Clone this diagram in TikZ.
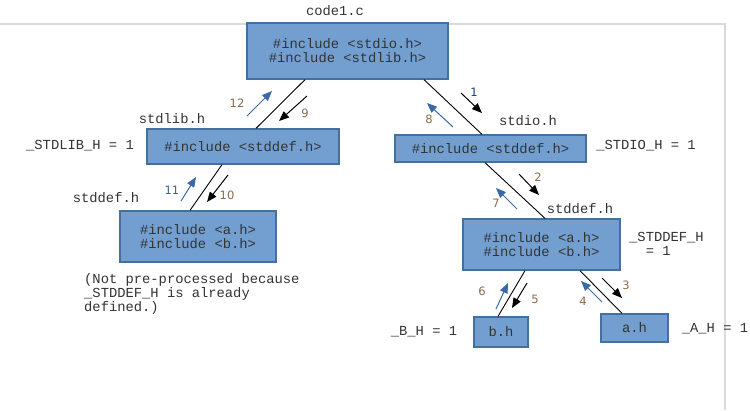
\documentclass[tikz,border=0pt]{standalone}
\usepackage{fontspec}
\setmonofont{Liberation Mono}
\newfontfamily\numfont{DejaVu Sans}
\usetikzlibrary{arrows.meta}
\definecolor{boxfill}{HTML}{729FCF}
\definecolor{boxline}{HTML}{41719C}
\definecolor{bluearr}{HTML}{3A68A8}
\definecolor{numcol}{HTML}{8A6A48}
\definecolor{navy}{HTML}{1F3A8A}
\definecolor{bluenum}{HTML}{3F5F95}
\definecolor{txt}{HTML}{333333}
\definecolor{frame}{HTML}{D9D9D9}
\tikzset{
  box/.style={draw=boxline, fill=boxfill, line width=1.3bp, inner sep=0pt,
    align=center, font=\ttfamily\fontsize{13.8bp}{14bp}\selectfont, text=txt},
  lbl/.style={inner sep=0pt, font=\ttfamily\fontsize{13.8bp}{14bp}\selectfont, text=txt},
  link/.style={draw=black, line width=0.9bp},
  fwd/.style={draw=black, line width=1bp, -{Triangle[length=10bp,width=8bp]}},
  back/.style={draw=bluearr, line width=1bp, -{Triangle[length=10bp,width=8bp]}},
  num/.style={inner sep=0pt, font=\numfont\fontsize{11.5bp}{13bp}\selectfont, text=numcol},
  numb/.style={num, text=navy},
  numl/.style={num, text=bluenum}
}
\begin{document}
\begin{tikzpicture}[x=1bp,y=-1bp]
\useasboundingbox (0,0) rectangle (750,410);
\fill[white] (0,0) rectangle (750,410);
% frame
\draw[frame, line width=2bp] (0,24) -- (725,24) -- (725,410);

% boxes
\node[box, minimum width=201bp, minimum height=56bp] (top) at (347.5,51) {\#include <stdio.h>\\\#include <stdlib.h>};
\node[box, minimum width=192bp, minimum height=35bp] (stdlib) at (243,146.5) {\#include <stddef.h>};
\node[box, minimum width=191bp, minimum height=27bp] (stdio) at (490.5,148.5) {\#include <stddef.h>};
\node[box, minimum width=156bp, minimum height=51bp] (defL) at (198,236.5) {\#include <a.h>\\\#include <b.h>};
\node[box, minimum width=157bp, minimum height=51bp] (defR) at (541.5,244.5) {\#include <a.h>\\\#include <b.h>};
\node[box, minimum width=54bp, minimum height=30bp] (bh) at (501,332) {b.h};
\node[box, minimum width=67bp, minimum height=28bp] (ah) at (634.5,328) {a.h};

% text labels
\node[lbl] (code) at (335,11) {code1.c};
\node[lbl] (lstdlib) at (172,119) {stdlib.h};
\node[lbl] (vstdlib) at (80,146) {\_STDLIB\_H = 1};
\node[lbl] (lstdio) at (528,121) {stdio.h};
\node[lbl] (vstdio) at (646,146) {\_STDIO\_H = 1};
\node[lbl] (lstddefL) at (106,198) {stddef.h};
\node[lbl] (lstddefR) at (580,209) {stddef.h};
\node[lbl, align=left, anchor=west] (vstddef) at (629,245) {\_STDDEF\_H\\\phantom{\_S}= 1};
\node[lbl] (vb) at (424,332) {\_B\_H = 1};
\node[lbl] (va) at (715,329) {\_A\_H = 1};
\node[lbl, align=left, anchor=north west] (note) at (84,273) {(Not pre-processed because\\\_STDDEF\_H is already\\defined.)};

% connectors between boxes
\draw[link] ([xshift=-42.5bp]top.south) -- ([xshift=13bp]stdlib.north);
\draw[link] ([xshift=76.5bp]top.south) -- ([xshift=-8.5bp]stdio.north);
\draw[link] ([xshift=-21bp]stdlib.south) -- ([xshift=-8bp]defL.north);
\draw[link] ([xshift=-5.5bp]stdio.south) -- ([xshift=3.5bp]defR.north);
\draw[link] ([xshift=-16.5bp]defR.south) -- ([xshift=-3bp]bh.north);
\draw[link] ([xshift=38.5bp]defR.south) -- ([xshift=-12.5bp]ah.north);

% step arrow end points
\coordinate (s1a) at (461,93);  \coordinate (s1b) at (482,113);
\coordinate (s2a) at (519,174); \coordinate (s2b) at (539,195);
\coordinate (s3a) at (602,278); \coordinate (s3b) at (622,298);
\coordinate (s4a) at (602,302); \coordinate (s4b) at (581,281);
\coordinate (s5a) at (527,283); \coordinate (s5b) at (512,308);
\coordinate (s6a) at (496,309); \coordinate (s6b) at (508,283);
\coordinate (s7a) at (517,209); \coordinate (s7b) at (496,188);
\coordinate (s8a) at (453,127); \coordinate (s8b) at (427,103);
\coordinate (s9a) at (307,96);  \coordinate (s9b) at (279,121);
\coordinate (s10a) at (228,175); \coordinate (s10b) at (207,202);
\coordinate (s11a) at (181,201); \coordinate (s11b) at (196,177);
\coordinate (s12a) at (247,116); \coordinate (s12b) at (272,91);

\draw[fwd] (s1a) -- (s1b);
\draw[fwd] (s2a) -- (s2b);
\draw[fwd] (s3a) -- (s3b);
\draw[back] (s4a) -- (s4b);
\draw[fwd] (s5a) -- (s5b);
\draw[back] (s6a) -- (s6b);
\draw[back] (s7a) -- (s7b);
\draw[back] (s8a) -- (s8b);
\draw[fwd] (s9a) -- (s9b);
\draw[fwd] (s10a) -- (s10b);
\draw[back] (s11a) -- (s11b);
\draw[back] (s12a) -- (s12b);

% step numbers
\node[numb] (n1) at (474,92) {1};
\node[num] (n2) at (538,177) {2};
\node[num] (n3) at (626,285) {3};
\node[num] (n4) at (583,301) {4};
\node[num] (n5) at (535,299) {5};
\node[num] (n6) at (482,291) {6};
\node[num] (n7) at (496,203) {7};
\node[num] (n8) at (429,119) {8};
\node[num] (n9) at (305,113) {9};
\node[num] (n10) at (227,195) {10};
\node[numl] (n11) at (172,190) {11};
\node[num] (n12) at (237,103) {12};
\end{tikzpicture}
\end{document}
